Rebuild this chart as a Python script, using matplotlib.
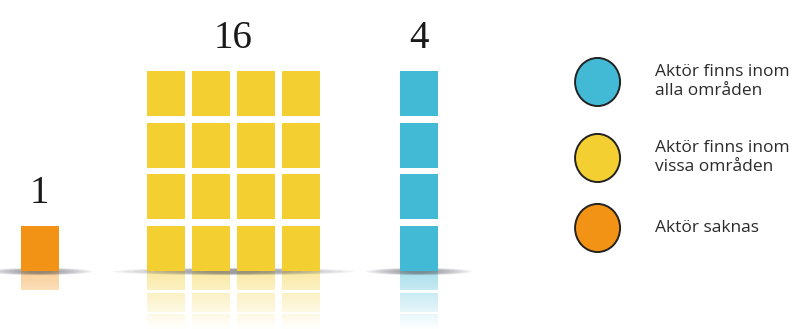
import math
import numpy as np
import matplotlib
matplotlib.use("Agg")
import matplotlib.pyplot as plt
from matplotlib.patches import Rectangle, Ellipse

# data
categories = ["Aktör saknas", "Aktör finns inom vissa områden", "Aktör finns inom alla områden"]
counts = [1, 16, 4]
columns = [1, 4, 1]
colors = ["#F39316", "#F3CF31", "#42BAD5"]

legend_labels = ["Aktör finns inom\nalla områden", "Aktör finns inom\nvissa områden", "Aktör saknas"]
legend_colors = ["#42BAD5", "#F3CF31", "#F39316"]

# layout (x unit = column pitch, y unit = row pitch)
group_x = [0.0, 2.81, 8.43]
cell_w = 0.844
cell_h = 0.87
refl_scale = 0.42


def draw_group(ax, x0, n, ncol, color):
    nrow = math.ceil(n / ncol)
    for i in range(n):
        c = i % ncol
        r = i // ncol
        x = x0 + c - cell_w / 2
        ax.add_patch(Rectangle((x, r), cell_w, cell_h, color=color, lw=0, zorder=3))
        # reflection
        ax.add_patch(Rectangle((x, -(r + cell_h) * refl_scale), cell_w, cell_h * refl_scale,
                               color=color, lw=0, zorder=1))
    # shadow on the floor
    left = x0 - cell_w / 2
    right = x0 + ncol - 1 + cell_w / 2
    cx = (left + right) / 2
    w = right - left + 1.5
    for k in range(10):
        ax.add_patch(Ellipse((cx, -0.01), w * (1 - k * 0.085), 0.14 * (1 - k * 0.05),
                             color="#55555c", alpha=0.08, lw=0, zorder=2.5))
    return nrow


fig = plt.figure(figsize=(7.92, 3.29), dpi=100)
ax = fig.add_axes([0, 0, 1, 1])
ax.set_xlim(-0.878, 16.72)
ax.set_ylim(-1.122, 5.242)
ax.axis("off")

for x0, n, ncol, col in zip(group_x, counts, columns, colors):
    nrow = draw_group(ax, x0, n, ncol, col)
    ax.text(x0 + (ncol - 1) / 2, nrow - 1 + cell_h + 0.45, str(n), ha="center", va="baseline",
            fontsize=28, family="Liberation Serif", color="#1a1a1a", zorder=5)

# fade the reflection into white
grad = np.ones((100, 2, 4))
grad[:, :, 3] = np.linspace(0.55, 1.0, 100)[:, None]
ax.imshow(grad, extent=(-0.878, 16.72, -1.122, 0), aspect="auto", zorder=2, origin="upper")
ax.set_xlim(-0.878, 16.72)
ax.set_ylim(-1.122, 5.242)

# legend
leg_x = 12.4
leg_y = [3.656, 2.186, 0.832]
for lab, col, y in zip(legend_labels, legend_colors, leg_y):
    ax.add_patch(Ellipse((leg_x, y), 1.0, 0.93, facecolor=col, edgecolor="#222222", lw=1.4, zorder=3))
    ax.text(leg_x + 1.28, y, lab, ha="left", va="center", fontsize=12.5, family="Open Sans",
            color="#2b2b2b", linespacing=1.25)

fig.savefig("out.png", dpi=100)
